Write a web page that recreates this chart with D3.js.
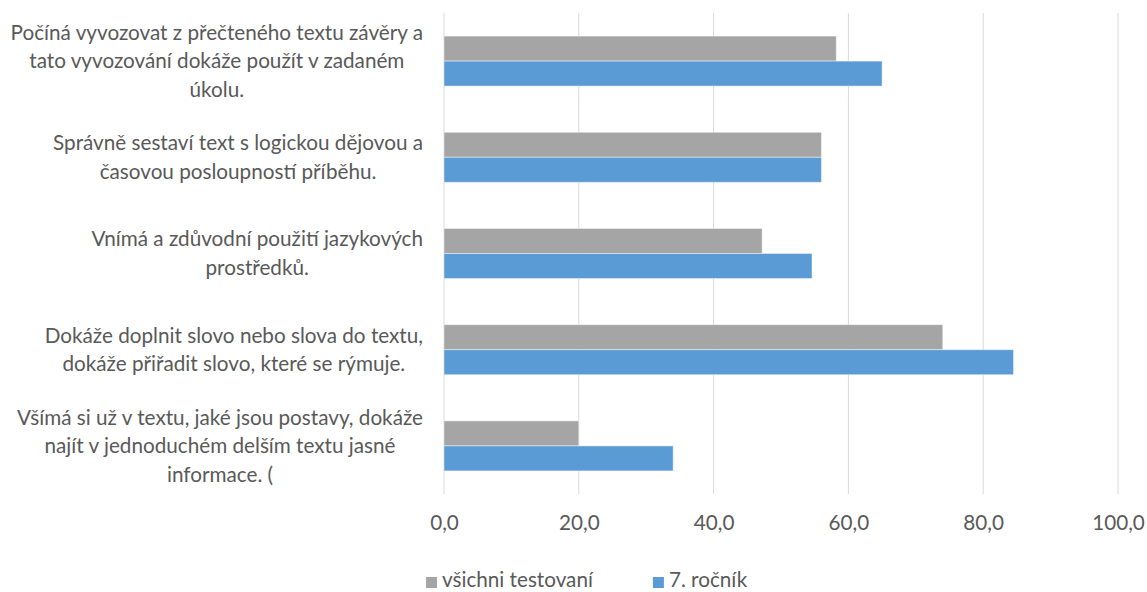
<!DOCTYPE html>
<html>
<head>
<meta charset="utf-8">
<script src="https://cdn.jsdelivr.net/npm/d3@7"></script>
<style>
  body { margin: 0; background: #fff; }
  svg text { font-family: Lato, "Open Sans", sans-serif; fill: #595959; }
</style>
</head>
<body>
<div id="chart"></div>
<script>
// category labels, lines split the way the picture wraps them
var categories = [
  "Počíná vyvozovat z přečteného textu závěry a|tato vyvozování dokáže použít v zadaném|úkolu.",
  "Správně sestaví text s logickou dějovou a|časovou posloupností příběhu.",
  "Vnímá a zdůvodní použití jazykových|prostředků.",
  "Dokáže doplnit slovo nebo slova do textu,|dokáže přiřadit slovo, které se rýmuje.",
  "Všímá si už v textu, jaké jsou postavy, dokáže|najít v jednoduchém delším textu jasné|informace. ("
];
var seriesNames = ["všichni testovaní", "7. ročník"];
var allTested = [58.2, 56.0, 47.2, 74.0, 20.0];
var grade7 = [65.0, 56.0, 54.6, 84.5, 34.0];
var xTicks = [0, 20, 40, 60, 80, 100];
var colors = ["#a5a5a5", "#5b9bd5"];

var width = 1147, height = 592;
var margin = {top: 13, right: 29, bottom: 98, left: 444};
var innerW = width - margin.left - margin.right,
    innerH = height - margin.top - margin.bottom;
var fontSize = "20.7px";

var svg = d3.select("#chart").append("svg")
    .attr("width", width)
    .attr("height", height);

var g = svg.append("g")
    .attr("transform", "translate(" + margin.left + "," + margin.top + ")");

var x = d3.scaleLinear().domain([0, 100]).range([0, innerW]);
var y = d3.scaleBand().domain(d3.range(categories.length))
    .range([0, innerH]).paddingInner(0.48).paddingOuter(0.24);
var ySub = d3.scaleBand().domain([0, 1]).range([0, y.bandwidth()]);

// gridlines
g.selectAll(".grid").data(xTicks).enter().append("line")
    .attr("class", "grid")
    .attr("x1", function(d) { return x(d); })
    .attr("x2", function(d) { return x(d); })
    .attr("y1", 0).attr("y2", innerH)
    .attr("stroke", "#d9d9d9").attr("stroke-width", 1);

// x axis labels
var xAxis = g.append("g")
    .attr("transform", "translate(0," + innerH + ")")
    .call(d3.axisBottom(x).tickValues(xTicks).tickSize(0).tickPadding(21)
      .tickFormat(function(d) { return d3.format(".1f")(d).replace(".", ","); }));
xAxis.select(".domain").remove();
xAxis.selectAll("text").attr("font-size", fontSize).attr("font-family", null);

// bars
var rows = categories.map(function(c, i) { return [allTested[i], grade7[i]]; });
var groups = g.selectAll(".cat").data(rows).enter().append("g")
    .attr("class", "cat")
    .attr("transform", function(d, i) { return "translate(0," + y(i) + ")"; });

groups.selectAll("rect").data(function(d) { return d; }).enter().append("rect")
    .attr("x", x(0))
    .attr("y", function(d, j) { return ySub(j); })
    .attr("width", function(d) { return x(d) - x(0); })
    .attr("height", ySub.bandwidth())
    .attr("fill", function(d, j) { return colors[j]; })
    .attr("stroke", "#ffffff").attr("stroke-opacity", 0.45).attr("stroke-width", 1);

// category labels: block right-aligned at 423, lines centred inside the block
var labelRight = 423 - margin.left, lineH = 28.5;
var labels = g.selectAll(".lab").data(categories).enter().append("text")
    .attr("class", "lab")
    .attr("font-size", fontSize)
    .attr("text-anchor", "middle");

labels.each(function(d, i) {
  var t = d3.select(this);
  var lines = d.split("|");
  var cy = y(i) + y.bandwidth() / 2;
  lines.forEach(function(l, k) {
    t.append("tspan").text(l)
      .attr("y", cy + (k - (lines.length - 1) / 2) * lineH)
      .attr("dy", "0.35em");
  });
  var maxW = d3.max(t.selectAll("tspan").nodes(), function(n) { return n.getComputedTextLength(); });
  t.selectAll("tspan").attr("x", labelRight - maxW / 2);
});

// legend (kept just inside the bottom edge)
var legend = svg.append("g").attr("transform", "translate(0,577)");
var lx = 426;
seriesNames.forEach(function(name, i) {
  var item = legend.append("g").attr("transform", "translate(" + lx + ",0)");
  item.append("rect").attr("x", 0).attr("y", 0).attr("width", 11).attr("height", 11)
    .attr("fill", colors[i]);
  var txt = item.append("text").attr("x", 16).attr("y", 10)
    .attr("font-size", fontSize).text(name);
  lx += 16 + txt.node().getComputedTextLength() + 60;
});
</script>
</body>
</html>
